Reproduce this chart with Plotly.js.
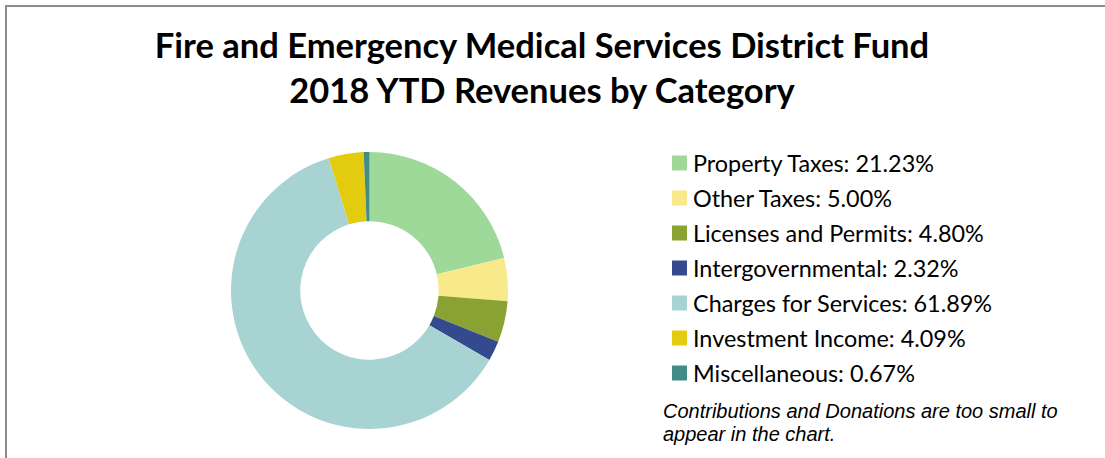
<!DOCTYPE html>
<html>
<head>
<meta charset="utf-8">
<script src="https://cdn.plot.ly/plotly-3.0.1.min.js"></script>
<style>html,body{margin:0;padding:0;background:#fff;}#chart{width:1105px;height:458px;}</style>
</head>
<body>
<div id="chart"></div>
<script>
const categories = ["Property Taxes", "Other Taxes", "Licenses and Permits", "Intergovernmental", "Charges for Services", "Investment Income", "Miscellaneous"];
const values = [21.23, 5.00, 4.80, 2.32, 61.89, 4.09, 0.67];
const colors = ["#9fd99a", "#f8e98a", "#8aa232", "#35498e", "#a7d4d2", "#e3cc10", "#428b87"];
const titleLines = ["Fire and Emergency Medical Services District Fund", "2018 YTD Revenues by Category"];
const footnoteLines = ["Contributions and Donations are too small to", "appear in the chart."];

const W = 1105, H = 458;
const legendLabels = categories.map((c, i) => c + ": " + values[i].toFixed(2) + "%");

const shapes = [
  {type: "line", xref: "paper", yref: "paper", x0: 5/W, x1: 1, y0: 1 - 6/H, y1: 1 - 6/H, line: {color: "#8c8c8c", width: 2}},
  {type: "line", xref: "paper", yref: "paper", x0: 6/W, x1: 6/W, y0: 1 - 6/H, y1: 0, line: {color: "#8c8c8c", width: 2}}
];
const annotations = [];
const legTop = 163, legStep = 35;
legendLabels.forEach((lab, i) => {
  const cy = legTop + legStep * i;
  shapes.push({type: "rect", xref: "paper", yref: "paper", x0: 672/W, x1: 687/W, y0: 1 - (cy - 7.5)/H, y1: 1 - (cy + 7.5)/H, fillcolor: colors[i], line: {width: 0}});
  annotations.push({xref: "paper", yref: "paper", x: 691/W, y: 1 - cy/H, xanchor: "left", yanchor: "middle", showarrow: false, text: lab, font: {family: "Lato, sans-serif", size: 23.4, color: "#000"}});
});
footnoteLines.forEach((ln, i) => {
  annotations.push({xref: "paper", yref: "paper", x: 661/W, y: 1 - (411 + 23 * i)/H, xanchor: "left", yanchor: "middle", align: "left", showarrow: false, text: "<i>" + ln + "</i>", font: {family: "Liberation Sans, Arial, sans-serif", size: 20, color: "#000"}});
});

const data = [{
  type: "pie",
  labels: categories,
  values: values,
  hole: 0.5,
  sort: false,
  direction: "clockwise",
  rotation: 0,
  textinfo: "none",
  hoverinfo: "label+percent",
  marker: {colors: colors, line: {width: 0}},
  domain: {x: [231/W, 508/W], y: [1 - 429/H, 1 - 152/H]},
  showlegend: false
}];

const layout = {
  width: W, height: H,
  margin: {l: 0, r: 0, t: 0, b: 0},
  paper_bgcolor: "#fff",
  title: {text: "<b>" + titleLines.join("<br>") + "</b>", x: 542/W, xanchor: "center", yref: "paper", y: 1 - 58/H, yanchor: "top", font: {family: "Lato, sans-serif", size: 34.5, color: "#000"}},
  showlegend: false,
  shapes: shapes,
  annotations: annotations
};
Plotly.newPlot("chart", data, layout, {displayModeBar: false, staticPlot: true});
</script>
</body>
</html>
